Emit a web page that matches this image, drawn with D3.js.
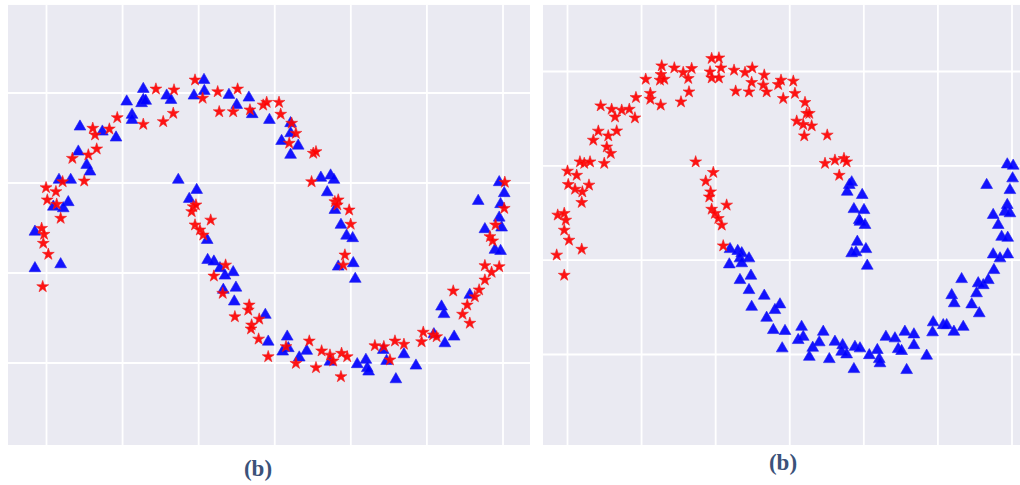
<!DOCTYPE html>
<html>
<head>
<meta charset="utf-8">
<script src="https://cdn.jsdelivr.net/npm/d3@7"></script>
<style>
  html, body { margin: 0; padding: 0; background: #ffffff; }
  svg { display: block; }
</style>
</head>
<body>
<svg id="chart" width="1020" height="485"></svg>
<script>
// grid ticks shared by both panels
var gridX = [-1, -0.5, 0, 0.5, 1, 1.5, 2];
var gridY = [-0.5, 0, 0.5, 1];

// left panel (b): red stars / blue triangles mixed on both moons
var leftTris = [
  [0.035,1.072],[0.037,1.011],[-0.031,0.985],[-0.364,1.022],[-0.364,0.961],[-0.375,0.943],
  [-0.348,0.956],[-0.473,0.952],[-0.438,0.878],[-0.438,0.85],[-0.21,0.985],[-0.182,0.961],
  [0.199,0.989],[0.25,0.933],[0.33,0.974],[0.352,0.882],[0.465,0.85],[-0.78,0.813],
  [-0.633,0.785],[-0.543,0.752],[-0.791,0.674],[-0.736,0.6],[-0.714,0.563],[-0.918,0.517],
  [-0.841,0.517],[-0.857,0.393],[-0.955,0.368],[-0.89,0.359],[-1.076,0.229],[-0.134,0.517],
  [-0.013,0.461],[-0.062,0.411],[0.056,0.183],[0.604,0.832],[0.604,0.776],[0.545,0.733],
  [0.654,0.707],[0.604,0.656],[0.803,0.529],[0.867,0.541],[0.889,0.517],[0.845,0.448],
  [0.895,0.35],[0.935,0.267],[0.972,0.207],[1.012,0.193],[1.975,0.504],[2.008,0.443],
  [1.984,0.382],[1.837,0.4],[1.975,0.307],[1.991,0.252],[1.881,0.243],[-1.076,0.026],
  [-0.907,0.048],[0.059,0.072],[0.1,0.063],[0.14,0.026],[0.227,0.004],[0.173,-0.015],
  [0.245,-0.082],[0.162,-0.094],[0.234,-0.159],[0.438,-0.233],[0.457,-0.382],[0.917,0.035],
  [1.016,0.054],[1.029,-0.033],[0.582,-0.354],[0.589,-0.418],[0.552,-0.437],[0.71,-0.433],
  [0.661,-0.47],[0.863,-0.493],[1.042,-0.507],[1.099,-0.483],[1.108,-0.529],[1.117,-0.548],
  [1.213,-0.428],[1.235,-0.489],[1.349,-0.452],[1.296,-0.591],[1.428,-0.515],[1.546,-0.341],
  [1.596,-0.187],[1.612,-0.229],[1.618,-0.391],[1.679,-0.354],[1.782,-0.122],[1.947,0.128],
  [1.984,0.122]
];
var leftStars = [
  [-0.024,1.072],[-0.281,1.022],[-0.162,1.017],[0.026,0.971],[0.125,1.007],[0.256,1.022],
  [0.135,0.896],[0.227,0.896],[0.337,0.906],[0.424,0.933],[0.447,0.948],[-0.167,0.887],
  [-0.233,0.841],[-0.364,0.826],[-0.535,0.863],[-0.587,0.8],[-0.696,0.804],[-0.681,0.767],
  [-0.67,0.689],[-0.725,0.656],[-0.83,0.637],[-0.752,0.511],[-0.894,0.507],[-1.003,0.474],
  [-0.938,0.452],[-0.995,0.406],[-0.933,0.382],[-0.907,0.304],[-1.032,0.248],[-1.016,0.215],
  [-1.021,0.165],[-0.036,0.368],[-0.018,0.378],[-0.046,0.341],[0.079,0.294],[-0.024,0.267],
  [0.008,0.239],[0.03,0.211],[0.528,0.948],[0.539,0.882],[0.611,0.832],[0.639,0.776],
  [0.595,0.721],[0.753,0.665],[0.771,0.674],[0.742,0.507],[0.895,0.396],[0.917,0.406],
  [0.911,0.378],[0.989,0.35],[0.999,0.271],[2.012,0.504],[2.008,0.359],[1.951,0.267],
  [1.914,0.202],[1.932,0.178],[-0.988,0.104],[-1.025,-0.076],[0.177,0.044],[0.1,-0.017],
  [0.158,-0.113],[0.332,-0.178],[0.326,-0.206],[0.238,-0.243],[0.398,-0.256],[0.348,-0.289],
  [0.344,-0.311],[0.394,-0.367],[0.457,-0.465],[0.961,0.1],[0.95,0.044],[0.574,-0.409],
  [0.727,-0.378],[0.639,-0.502],[0.771,-0.526],[0.808,-0.433],[0.863,-0.456],[0.884,-0.489],
  [0.939,-0.446],[0.976,-0.465],[0.935,-0.576],[1.158,-0.404],[1.217,-0.409],[1.257,-0.483],
  [1.29,-0.378],[1.349,-0.396],[1.476,-0.329],[1.465,-0.382],[1.541,-0.344],[1.564,-0.354],
  [1.673,-0.1],[1.765,-0.178],[1.734,-0.229],[1.782,-0.279],[1.815,-0.132],[1.843,-0.094],
  [1.881,-0.039],[1.925,0.004],[1.881,0.041],[1.975,0.035]
];

// right panel (b): upper moon all stars, lower moon all triangles
var rightStars = [
  [-0.027,1.069],[0.022,1.072],[0.036,1.019],[-0.038,0.998],[-0.027,0.966],[0.022,0.966],
  [-0.364,1.03],[-0.279,1.019],[-0.369,0.984],[-0.376,0.954],[-0.347,0.959],[-0.219,0.995],
  [-0.162,1.016],[-0.185,0.963],[-0.18,0.892],[-0.234,0.839],[-0.472,0.959],[-0.441,0.884],
  [-0.441,0.853],[-0.371,0.822],[-0.538,0.862],[-0.545,0.754],[-0.583,0.8],[-0.634,0.795],
  [-0.702,0.8],[-0.679,0.759],[-0.776,0.818],[-0.668,0.685],[-0.792,0.684],[-0.826,0.636],
  [-0.725,0.659],[-0.735,0.6],[-0.708,0.566],[-0.752,0.513],[-0.916,0.521],[-0.887,0.513],
  [-0.848,0.521],[-1.0,0.472],[-0.938,0.45],[-0.995,0.401],[-0.949,0.376],[-0.9,0.362],
  [-0.855,0.398],[-0.904,0.306],[-1.066,0.239],[-1.022,0.248],[-1.012,0.212],[0.124,1.007],
  [0.135,0.896],[0.198,0.995],[0.247,1.019],[0.243,0.942],[0.225,0.892],[0.328,0.981],
  [0.321,0.928],[0.344,0.892],[0.422,0.931],[0.456,0.857],[-0.135,0.521],[-0.016,0.465],
  [-0.067,0.419],[-0.034,0.362],[-0.043,0.335],[0.074,0.292],[-0.027,0.27],[-0.005,0.248],
  [0.018,0.221],[0.441,0.954],[0.524,0.949],[0.535,0.884],[0.603,0.836],[0.614,0.778],
  [0.632,0.778],[0.547,0.737],[0.591,0.719],[0.648,0.712],[0.598,0.659],[0.753,0.663],
  [0.738,0.513],[0.805,0.53],[0.866,0.539],[0.884,0.521],[0.834,0.45],[-1.022,0.159],
  [-0.99,0.106],[-0.904,0.058],[-1.073,0.027],[-1.022,-0.08],[0.041,0.186],[0.051,0.076]
];
var rightTris = [
  [0.902,0.398],[0.918,0.412],[0.888,0.362],[0.989,0.345],[0.933,0.27],[1.001,0.265],
  [0.969,0.212],[1.968,0.507],[2.008,0.5],[1.829,0.398],[2.004,0.433],[1.986,0.371],
  [1.968,0.292],[1.952,0.256],[1.873,0.239],[1.986,0.248],[0.097,0.058],[0.149,0.048],
  [0.176,0.036],[0.164,0.009],[0.225,0.009],[0.092,-0.023],[0.176,-0.017],[0.238,-0.083],
  [0.164,-0.106],[0.225,-0.159],[0.328,-0.189],[0.243,-0.248],[0.4,-0.265],[0.434,-0.235],
  [0.344,-0.306],[0.389,-0.371],[0.449,-0.468],[0.974,0.203],[1.008,0.186],[0.956,0.097],
  [0.918,0.036],[0.947,0.041],[1.014,0.058],[1.023,-0.03],[0.468,-0.376],[0.58,-0.354],
  [0.557,-0.424],[0.591,-0.407],[0.655,-0.465],[0.632,-0.513],[0.699,-0.436],[0.726,-0.38],
  [0.767,-0.525],[0.805,-0.433],[0.857,-0.451],[0.85,-0.486],[0.884,-0.5],[0.94,-0.46],
  [0.974,-0.468],[0.933,-0.578],[1.037,-0.504],[1.091,-0.477],[1.104,-0.525],[1.109,-0.547],
  [1.149,-0.407],[1.21,-0.415],[1.232,-0.472],[1.255,-0.482],[1.277,-0.38],[1.338,-0.394],
  [1.338,-0.451],[1.289,-0.583],[1.424,-0.507],[1.468,-0.33],[1.464,-0.383],[1.536,-0.345],
  [1.559,-0.345],[1.608,-0.38],[1.671,-0.354],[1.593,-0.186],[1.61,-0.229],[1.66,-0.101],
  [1.728,-0.235],[1.779,-0.282],[1.761,-0.176],[1.772,-0.123],[1.806,-0.133],[1.84,-0.106],
  [1.878,-0.053],[1.873,0.03],[1.919,0.009],[1.971,0.03],[1.93,0.123],[1.971,0.118],
  [1.907,0.186]
];

var panelLabels = ["(b)", "(b)"];

var svg = d3.select("#chart");

var panels = [
  { id: "left",  box: [8, 4.7, 530, 445],   xr: [46.5, 503],  yr: [363, 93],
    stars: leftStars,  tris: leftTris,  label: panelLabels[0], labelPos: [258, 476] },
  { id: "right", box: [543, 4.7, 1020, 445], xr: [567.5, 1012], yr: [354.5, 71.5],
    stars: rightStars, tris: rightTris, label: panelLabels[1], labelPos: [783, 470] }
];

var starSym = d3.symbol().type(d3.symbolStar).size(44);
var triSym  = d3.symbol().type(d3.symbolTriangle).size(60);

panels.forEach(function(p) {
  var x = d3.scaleLinear().domain([-1, 2]).range(p.xr);
  var y = d3.scaleLinear().domain([-0.5, 1]).range(p.yr);
  var b = p.box;

  svg.append("clipPath").attr("id", "clip-" + p.id)
    .append("rect")
    .attr("x", b[0]).attr("y", b[1])
    .attr("width", b[2] - b[0]).attr("height", b[3] - b[1]);

  var g = svg.append("g").attr("clip-path", "url(#clip-" + p.id + ")");

  g.append("rect")
    .attr("x", b[0]).attr("y", b[1])
    .attr("width", b[2] - b[0]).attr("height", b[3] - b[1])
    .attr("fill", "#eaeaf2");

  g.selectAll("line.gx").data(gridX).enter().append("line")
    .attr("class", "gx")
    .attr("x1", function(d){ return x(d); }).attr("x2", function(d){ return x(d); })
    .attr("y1", b[1]).attr("y2", b[3])
    .attr("stroke", "#ffffff").attr("stroke-width", 1.8);

  g.selectAll("line.gy").data(gridY).enter().append("line")
    .attr("class", "gy")
    .attr("y1", function(d){ return y(d); }).attr("y2", function(d){ return y(d); })
    .attr("x1", b[0]).attr("x2", b[2])
    .attr("stroke", "#ffffff").attr("stroke-width", 1.8);

  g.selectAll("path.tri").data(p.tris).enter().append("path")
    .attr("class", "tri")
    .attr("d", triSym)
    .attr("transform", function(d){ return "translate(" + x(d[0]) + "," + y(d[1]) + ")"; })
    .attr("fill", "#0000ff")
    .attr("stroke", "#2020ee").attr("stroke-width", 0.6)
    .attr("fill-opacity", 0.92);

  g.selectAll("path.star").data(p.stars).enter().append("path")
    .attr("class", "star")
    .attr("d", starSym)
    .attr("transform", function(d){ return "translate(" + x(d[0]) + "," + y(d[1]) + ")"; })
    .attr("fill", "#ff0000")
    .attr("stroke", "#f02020").attr("stroke-width", 0.6)
    .attr("fill-opacity", 0.92);

  svg.append("text")
    .attr("x", p.labelPos[0]).attr("y", p.labelPos[1])
    .attr("text-anchor", "middle")
    .attr("font-family", "'Liberation Serif', 'DejaVu Serif', serif")
    .attr("font-weight", "bold")
    .attr("font-size", 23)
    .attr("fill", "#3b5279")
    .text(p.label);
});
</script>
</body>
</html>
